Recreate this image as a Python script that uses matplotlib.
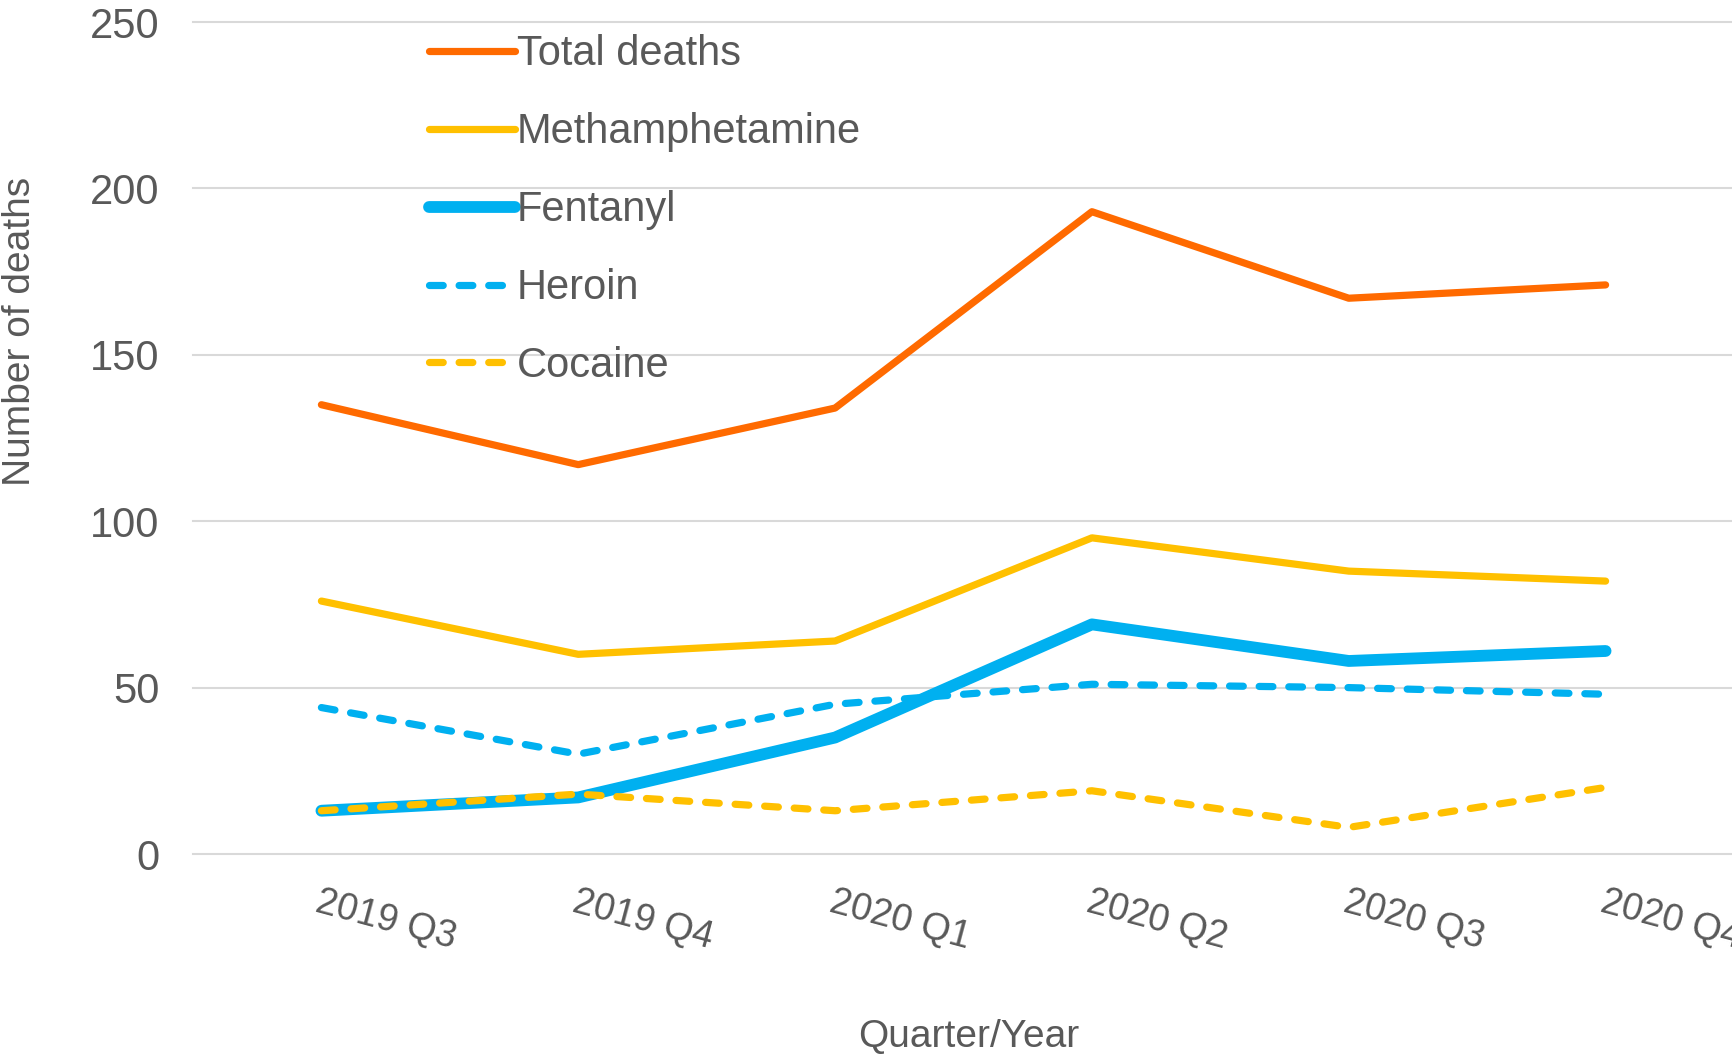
import matplotlib

matplotlib.use("Agg")
import matplotlib.pyplot as plt
import numpy as np

quarters = ["2019 Q3", "2019 Q4", "2020 Q1", "2020 Q2", "2020 Q3", "2020 Q4"]
total = [135, 117, 134, 193, 167, 171]
meth = [76, 60, 64, 95, 85, 82]
fentanyl = [13, 17, 35, 69, 58, 61]
heroin = [44, 30, 45, 51, 50, 48]
cocaine = [13, 18, 13, 19, 8, 20]

ORANGE = "#FF6A00"
GOLD = "#FFC000"
BLUE = "#00B0F0"
TXT = "#595959"

plt.rcParams["font.family"] = ["Liberation Sans", "DejaVu Sans"]

W, H = 1733, 1061
fig = plt.figure(figsize=(W / 100, H / 100), dpi=100)
ax = fig.add_axes([193 / W, 1 - 854 / H, (1734 - 193) / W, (854 - 22) / H])

x = np.arange(len(quarters))
common = dict(solid_capstyle="round", dash_capstyle="round", solid_joinstyle="round")
ax.plot(x, total, color=ORANGE, lw=5.2, label="Total deaths", **common)
ax.plot(x, meth, color=GOLD, lw=5.2, label="Methamphetamine", **common)
ax.plot(x, fentanyl, color=BLUE, lw=8.5, label="Fentanyl", **common)
ax.plot(x, heroin, color=BLUE, lw=5.2, dashes=(1.9, 2.2), label="Heroin", **common)
ax.plot(x, cocaine, color=GOLD, lw=5.2, dashes=(1.9, 2.2), label="Cocaine", **common)

ax.set_xlim(-0.5, len(quarters) - 0.5)
ax.set_ylim(0, 250)
ax.set_yticks(range(0, 251, 50))
ax.yaxis.grid(True, color="#D9D9D9", lw=1.5)
ax.set_axisbelow(True)
for s in ax.spines.values():
    s.set_visible(False)
ax.tick_params(axis="both", length=0, colors=TXT)
ax.tick_params(axis="y", pad=24, labelsize=30)
ax.set_xticks(x)
ax.set_xticklabels(quarters, rotation=-15, ha="left", va="top",
                   rotation_mode="anchor", fontsize=27, color=TXT)
ax.tick_params(axis="x", pad=22)
for gl in ax.get_ygridlines():
    gl.set_clip_on(False)

# legend sits inside the plot, no frame
leg = ax.legend(loc="upper left", bbox_to_anchor=(421 / W, 1 - 26 / H),
                bbox_transform=fig.transFigure, frameon=False, fontsize=30,
                handlelength=2.05, handletextpad=0.05, labelspacing=0.91,
                borderaxespad=0, borderpad=0.2)
for t in leg.get_texts():
    t.set_color(TXT)

fig.text(20 / W, 1 - 331 / H, "Number of deaths", rotation=90, ha="center",
         va="center", fontsize=28, color=TXT)
fig.text(969 / W, 1 - 1037 / H, "Quarter/Year", ha="center", va="center",
         fontsize=28, color=TXT)

fig.savefig("out.png")
